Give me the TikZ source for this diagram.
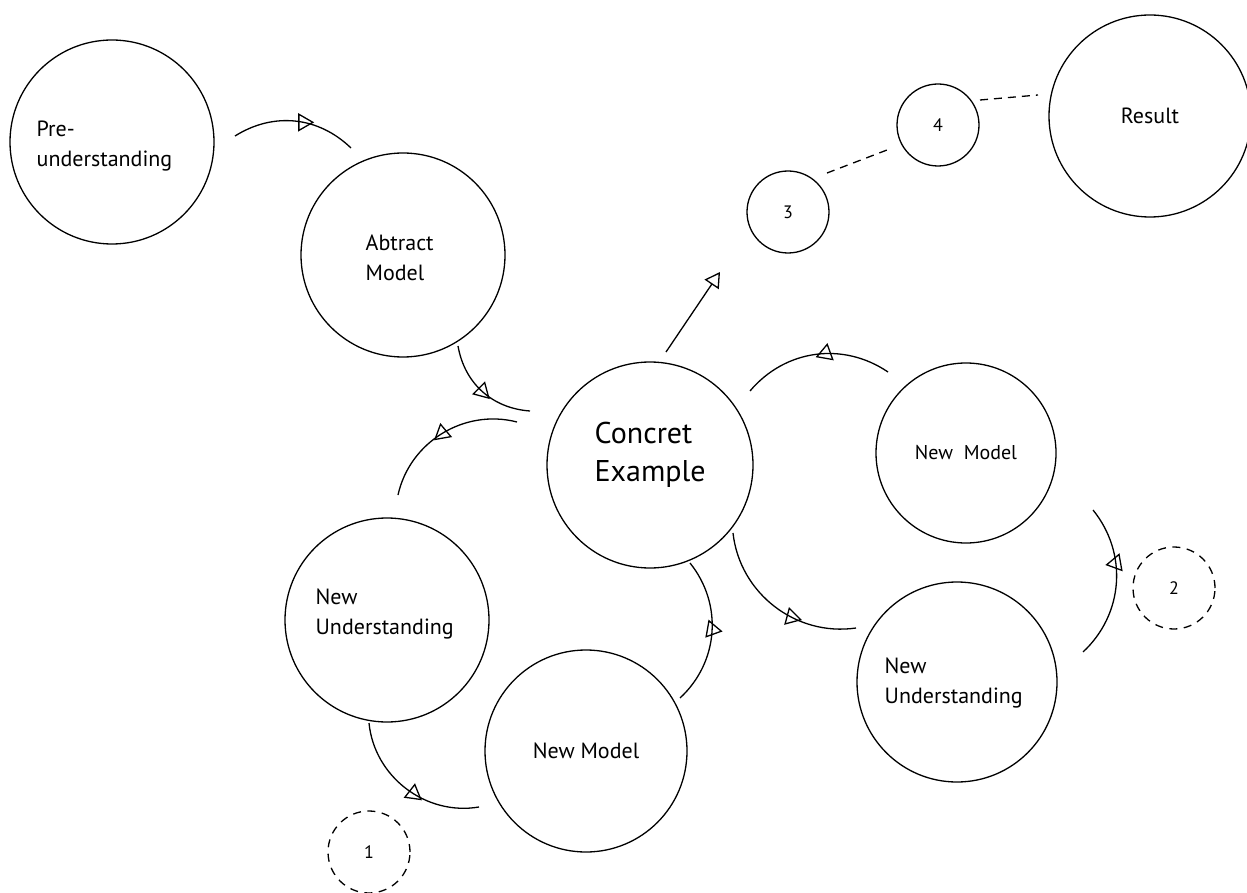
\documentclass[tikz,border=0pt]{standalone}
\usepackage{fontspec}
\setmainfont{PT Sans}
\usetikzlibrary{arrows.meta,shapes.geometric}
\begin{document}
\begin{tikzpicture}[x=1pt,y=-1pt,line width=1.3pt,
  circ/.style={draw, circle, inner sep=0pt, minimum size=#1},
  dcirc/.style={circ=#1, dash pattern=on 8pt off 6.5pt},
  lbl/.style={font=\fontsize{22}{30}\selectfont, align=left, inner sep=0pt, anchor=west},
  biglbl/.style={font=\fontsize{30}{38}\selectfont, align=left, inner sep=0pt, anchor=west},
  midfont/.style={font=\fontsize{22}{28}\selectfont},
  numfont/.style={font=\fontsize{18}{22}\selectfont},
  tri/.style={draw, isosceles triangle, isosceles triangle apex angle=60,
    inner sep=0pt, minimum width=12.5pt, minimum height=14pt, rotate=#1},
  dline/.style={dash pattern=on 8pt off 6pt},
  tip/.style={-{Triangle[open,length=15pt,width=17pt]}}
]
\useasboundingbox (0,0) rectangle (1247,893);

% circles
\node[circ=204pt] (pre) at (112,142) {};
\node[circ=204pt] (abs) at (403,255) {};
\node[circ=206pt] (ce)  at (650,465) {};
\node[circ=180pt, font=\fontsize{20}{24}\selectfont] (nmr) at (966,453) {New\ \ Model};
\node[circ=204pt] (nul) at (387,620) {};
\node[circ=202pt, midfont] (nmb) at (586,751) {New Model};
\node[circ=200pt] (nur) at (957,682) {};
\node[circ=82pt, numfont] (n3) at (788,212) {3};
\node[circ=82pt, numfont] (n4) at (938,125) {4};
\node[circ=202pt, midfont] (res) at (1150,116) {Result};
\node[dcirc=82pt, numfont] (d1) at (369,852) {1};
\node[dcirc=82pt, numfont] (d2) at (1174,588) {2};

% texts set left-aligned inside their circles
\node[lbl] (pretext) at (36,146) {Pre-\\understanding};
\node[lbl] (abstext) at (365,258) {Abtract\\Model};
\node[biglbl] (cetext) at (594,455) {Concret\\Example};
\node[lbl] (nultext) at (315,614) {New\\Understanding};
\node[lbl] (nurtext) at (884,683) {New\\Understanding};

% free ends of the connecting arcs
\coordinate (a1s) at (235,136);  \coordinate (a1e) at (351,148);
\coordinate (a2s) at (458,346);  \coordinate (a2e) at (530,411);
\coordinate (a3s) at (517,422);  \coordinate (a3e) at (398,495);
\coordinate (a4s) at (369,723);  \coordinate (a4e) at (479,807);
\coordinate (a5s) at (680,698);  \coordinate (a5e) at (690,563);
\coordinate (a6s) at (733,533);  \coordinate (a6e) at (856,628);
\coordinate (a7s) at (1083,652); \coordinate (a7e) at (1093,510);
\coordinate (a8s) at (888,372);  \coordinate (a8e) at (750,391);
\coordinate (a9s) at (666,352);  \coordinate (a9e) at (720,272);
\coordinate (b1s) at (827,173);  \coordinate (b1e) at (887,150);
\coordinate (b2s) at (980,100);  \coordinate (b2e) at (1038,95);

% arcs with open triangles halfway
\draw (a1s) to[bend left=38]  node[tri=0,   pos=0.57] (t1) {} (a1e);
\draw (a2s) to[bend right=38] node[tri=-45, pos=0.5]  (t2) {} (a2e);
\draw (a3s) to[bend right=46] node[tri=-140,pos=0.5]  (t3) {} (a3e);
\draw (a4s) to[bend right=47] node[tri=-38, pos=0.56] (t4) {} (a4e);
\draw (a5s) to[bend right=43] node[tri=-10, pos=0.52] (t5) {} (a5e);
\draw (a6s) to[bend right=46] node[tri=-15, pos=0.62] (t6) {} (a6e);
\draw (a7s) to[bend right=43] node[tri=70,  pos=0.63] (t7) {} (a7e);
\draw (a8s) to[bend right=42] node[tri=80,  pos=0.43] (t8) {} (a8e);

% way out to the result
\draw[tip] (a9s) -- (a9e);
\draw[dline] (b1s) -- (b1e);
\draw[dline] (b2s) -- (b2e);
\end{tikzpicture}
\end{document}
